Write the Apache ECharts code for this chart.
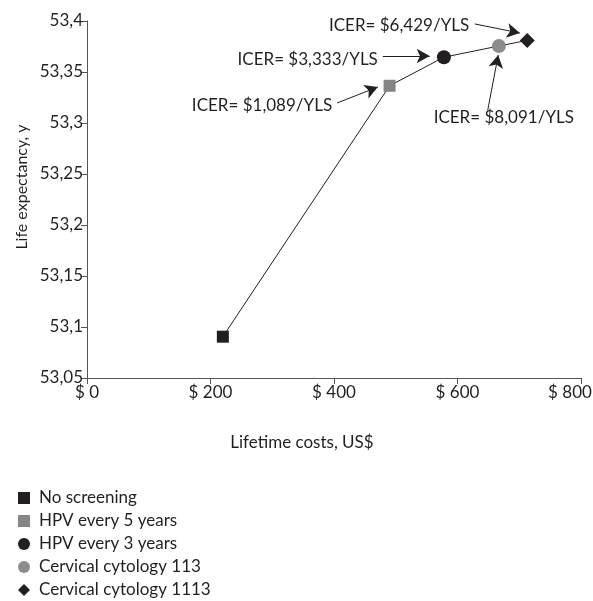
<!DOCTYPE html>
<html><head><meta charset="utf-8">
<script src="https://cdn.jsdelivr.net/npm/echarts@6/dist/echarts.min.js"></script>
<style>html,body{margin:0;padding:0;background:#fff}#c{width:593px;height:601px}</style>
</head><body><div id="c"></div>
<script>
// Data
const strategies = ['No screening','HPV every 5 years','HPV every 3 years','Cervical cytology 113','Cervical cytology 1113'];
const costs = [220, 490, 578, 667, 713];
const lifeExp = [53.0905, 53.3365, 53.3645, 53.3755, 53.381];
const xTicks = [0, 200, 400, 600, 800];
const yTicks = [53.05, 53.1, 53.15, 53.2, 53.25, 53.3, 53.35, 53.4];
// annotation texts and their anchors / arrow ends in data space
const annTexts = ['ICER= $1,089/YLS','ICER= $3,333/YLS','ICER= $6,429/YLS','ICER= $8,091/YLS'];
const annTextPos = [[397, 53.3167],[471, 53.3618],[619, 53.3951],[675, 53.3049]];
const annArrowFrom = [[405, 53.3196],[479, 53.3657],[628, 53.3971],[649, 53.3127]];
const annArrowTo = [[471, 53.3353],[555, 53.3657],[701, 53.3882],[666, 53.3667]];

const FONT = 'Lato';
const TXT = '#231f20';
const colors = ['#231f20','#858585','#231f20','#8c8c8c','#231f20'];
const symbols = ['rect','rect','circle','circle','diamond'];
const sizes = [12,12,14,14,15];

const chart = echarts.init(document.getElementById('c'), null, {renderer:'canvas'});
const fmtY = v => (Math.round(v*100)/100).toString().replace('.', ',');

const series = [{
  type:'line', name:'path', silent:true,
  data: costs.map((c,i)=>[c, lifeExp[i]]),
  symbol:'none', lineStyle:{color:'#231f20', width:1}, z:1,
  markLine:{
    silent:true, symbol:['none','arrow'], symbolSize:[11,13],
    lineStyle:{color:'#231f20', width:1, type:'solid'},
    label:{show:false},
    data: annArrowFrom.map((f,i)=>[{coord:f},{coord:annArrowTo[i]}])
  }
}];
strategies.forEach((s,i)=>{
  series.push({
    type:'scatter', name:s, data:[[costs[i], lifeExp[i]]],
    symbol:symbols[i], symbolSize:sizes[i],
    itemStyle:{color:colors[i], opacity:1}, z:3
  });
});

chart.setOption({
  animation:false,
  textStyle:{fontFamily:FONT},
  grid:{left:87, right:12, top:21, bottom:223, outerBoundsMode:'none', containLabel:false},
  xAxis:{type:'value', min:0, max:800, interval:200,
    axisLine:{lineStyle:{color:'#555', width:1}},
    axisTick:{show:true, length:6, lineStyle:{color:'#555'}},
    splitLine:{show:false},
    axisLabel:{formatter:v=> v===800 ? '{m|$ 800}' : '$ '+v, color:TXT, fontSize:17, fontFamily:FONT, margin:6,
      rich:{m:{color:TXT, fontSize:17, fontFamily:FONT, padding:[0,22,0,0]}}}
  },
  yAxis:{type:'value', min:53.05, max:53.4, interval:0.05,
    axisLine:{show:true, lineStyle:{color:'#555', width:1}},
    axisTick:{show:true, length:6, lineStyle:{color:'#555'}},
    splitLine:{show:false},
    axisLabel:{formatter:fmtY, color:TXT, fontSize:17, fontFamily:FONT, margin:4}
  },
  legend:{
    orient:'vertical', left:13, top:484, itemGap:5, height:120,
    data: strategies.map((s,i)=>({name:s, icon: symbols[i]})),
    itemWidth:12, itemHeight:12,
    textStyle:{color:TXT, fontSize:17, lineHeight:18, fontFamily:FONT, padding:[0,0,0,4]}
  },
  series
});

// annotation texts, axis titles
const g = [];
annTexts.forEach((t,i)=>{
  const p = chart.convertToPixel({gridIndex:0}, annTextPos[i]);
  g.push({type:'text', x:p[0], y:p[1], style:{text:t, fill:TXT, font:'17px '+FONT,
    textAlign: i===3 ? 'center' : 'right', textVerticalAlign:'middle'}, z:10});
});
g.push({type:'text', x:302, y:443, style:{text:'Lifetime costs, US$', fill:TXT, font:'17px '+FONT, textAlign:'center', textVerticalAlign:'middle'}});
g.push({type:'text', x:22, y:187, rotation:Math.PI/2, style:{text:'Life expectancy, y', fill:TXT, font:'16px '+FONT, textAlign:'center', textVerticalAlign:'middle'}});
chart.setOption({graphic:g});
</script></body></html>
